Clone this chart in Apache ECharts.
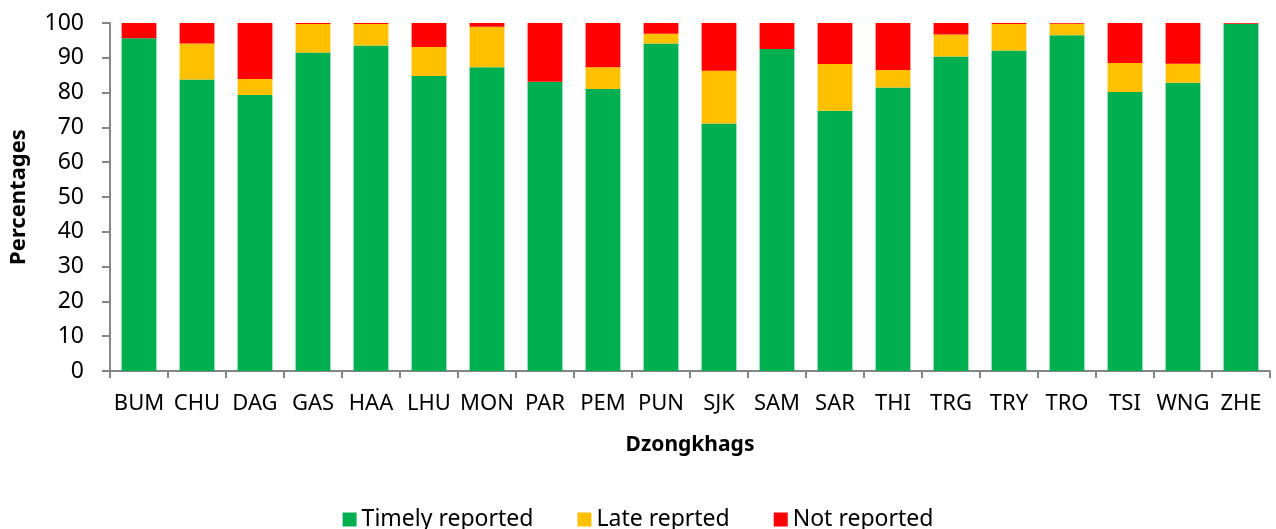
<!DOCTYPE html>
<html>
<head>
<meta charset="utf-8">
<script src="https://cdn.jsdelivr.net/npm/echarts@6/dist/echarts.min.js"></script>
<style>
  html, body { margin: 0; padding: 0; background: #fff; }
  #chart { width: 1276px; height: 529px; }
</style>
</head>
<body>
<div id="chart"></div>
<script>
// data
const dzongkhags = ["BUM", "CHU", "DAG", "GAS", "HAA", "LHU", "MON", "PAR", "PEM", "PUN",
  "SJK", "SAM", "SAR", "THI", "TRG", "TRY", "TRO", "TSI", "WNG", "ZHE"];
const timelyReported = [95.6, 83.8, 79.3, 91.5, 93.5, 84.8, 87.3, 83.1, 81.0, 94.1,
  71.1, 92.5, 74.8, 81.5, 90.4, 92.1, 96.5, 80.2, 82.8, 99.8];
const lateReported = [0, 10.3, 4.6, 8.2, 6.2, 8.3, 11.6, 0, 6.3, 2.8,
  15.2, 0, 13.4, 5.0, 6.3, 7.6, 3.3, 8.3, 5.5, 0];
const notReported = [4.4, 5.9, 16.1, 0.3, 0.3, 6.9, 1.1, 16.9, 12.7, 3.1,
  13.7, 7.5, 11.8, 13.5, 3.3, 0.3, 0.2, 11.5, 11.7, 0.2];

const chart = echarts.init(document.getElementById("chart"));
const font = "'Noto Sans', sans-serif";
const axisGray = "#868686";

const option = {
  animation: false,
  textStyle: { fontFamily: font, color: "#000" },
  grid: { left: 108, right: 6, top: 23, bottom: 158, containLabel: false },
  legend: {
    top: 503,
    left: "center",
    itemWidth: 14,
    itemHeight: 14,
    itemGap: 44,
    icon: "rect",
    textStyle: { fontFamily: font, fontSize: 23, color: "#000" },
    data: ["Timely reported", "Late reprted", "Not reported"]
  },
  xAxis: {
    type: "category",
    data: dzongkhags,
    name: "Dzongkhags",
    nameLocation: "middle",
    nameGap: 64,
    nameTextStyle: { fontFamily: font, fontSize: 21, fontWeight: "bold", color: "#000" },
    axisLine: { lineStyle: { color: axisGray, width: 2 } },
    axisTick: { show: true, length: 7, lineStyle: { color: axisGray, width: 2 } },
    axisLabel: { interval: 0, fontSize: 22, color: "#000", margin: 22 }
  },
  yAxis: {
    type: "value",
    min: 0,
    max: 100,
    interval: 10,
    name: "Percentages",
    nameLocation: "middle",
    nameGap: 80,
    nameTextStyle: { fontFamily: font, fontSize: 22, fontWeight: "bold", color: "#000" },
    axisLine: { show: true, lineStyle: { color: axisGray, width: 2 } },
    axisTick: { show: true, length: 8, lineStyle: { color: axisGray, width: 2 } },
    axisLabel: { fontSize: 23, color: "#000", margin: 26 },
    splitLine: { show: false }
  },
  series: [
    {
      name: "Timely reported",
      type: "bar",
      stack: "total",
      barCategoryGap: "40%",
      itemStyle: { color: "#00B050" },
      data: timelyReported
    },
    {
      name: "Late reprted",
      type: "bar",
      stack: "total",
      itemStyle: { color: "#FFC000" },
      data: lateReported
    },
    {
      name: "Not reported",
      type: "bar",
      stack: "total",
      itemStyle: { color: "#FF0000" },
      data: notReported
    }
  ]
};

chart.setOption(option);
</script>
</body>
</html>
